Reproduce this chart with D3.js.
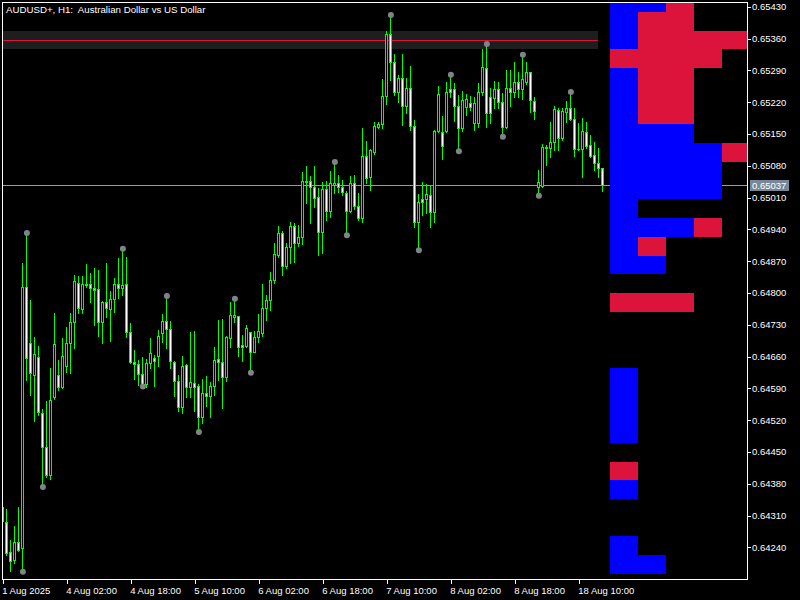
<!DOCTYPE html>
<html><head><meta charset="utf-8">
<script src="https://cdn.jsdelivr.net/npm/d3@7"></script>
<style>html,body{margin:0;padding:0;background:#000;}svg{display:block}</style>
</head><body>
<svg id="c" width="800" height="600"></svg>
<script>
const title = "AUDUSD+, H1:  Australian Dollar vs US Dollar";
const opens = [0.64329,0.64296,0.64230,0.64212,0.64252,0.64238,0.64813,0.64690,0.64619,0.64659,
0.64536,0.64461,0.64399,0.64571,0.64619,0.64593,0.64639,0.64690,0.64736,0.64822,
0.64765,0.64820,0.64820,0.64811,0.64809,0.64736,0.64780,0.64765,0.64787,0.64820,
0.64811,0.64820,0.64714,0.64648,0.64644,0.64622,0.64599,0.64646,0.64657,0.64661,
0.64712,0.64738,0.64721,0.64648,0.64606,0.64549,0.64641,0.64593,0.64602,0.64595,
0.64527,0.64580,0.64573,0.64595,0.64655,0.64648,0.64615,0.64701,0.64747,0.64749,
0.64685,0.64683,0.64714,0.64670,0.64703,0.64712,0.64767,0.64784,0.64828,0.64883,
0.64932,0.64859,0.64901,0.64947,0.64910,0.64923,0.65044,0.65046,0.65033,0.65011,
0.64934,0.65029,0.64980,0.65038,0.65042,0.65033,0.65020,0.64980,0.65042,0.64991,
0.64965,0.65101,0.65055,0.65110,0.65165,0.65172,0.65233,0.65370,0.65308,0.65242,
0.65273,0.65211,0.65251,0.65167,0.64956,0.65007,0.65007,0.65016,0.64978,0.65156,
0.65154,0.65156,0.65249,0.65249,0.65211,0.65163,0.65209,0.65218,0.65174,0.65174,
0.65242,0.65295,0.65231,0.65229,0.65249,0.65220,0.65165,0.65251,0.65242,0.65264,
0.65249,0.65264,0.65286,0.65222,0.65033,0.65035,0.65121,0.65119,0.65132,0.65203,
0.65141,0.65198,0.65207,0.65183,0.65117,0.65116,0.65154,0.65125,0.65103,0.65086,
0.65075];
const highs = [0.64331,0.64324,0.64256,0.64287,0.64329,0.64866,0.64932,0.64784,0.64703,0.64683,
0.64544,0.64562,0.64635,0.64756,0.64652,0.64701,0.64725,0.64756,0.64839,0.64837,
0.64837,0.64864,0.64844,0.64855,0.64850,0.64782,0.64866,0.64804,0.64833,0.64877,
0.64897,0.64879,0.64734,0.64674,0.64652,0.64659,0.64655,0.64701,0.64663,0.64718,
0.64754,0.64793,0.64738,0.64650,0.64619,0.64661,0.64644,0.64714,0.64716,0.64599,
0.64610,0.64617,0.64604,0.64681,0.64740,0.64743,0.64705,0.64780,0.64787,0.64750,
0.64707,0.64729,0.64715,0.64716,0.64754,0.64820,0.64795,0.64846,0.64910,0.64947,
0.64936,0.64910,0.64956,0.64954,0.64949,0.65066,0.65079,0.65057,0.65079,0.65031,
0.65044,0.65046,0.65068,0.65088,0.65060,0.65049,0.65024,0.65057,0.65060,0.65020,
0.65163,0.65134,0.65117,0.65176,0.65176,0.65271,0.65376,0.65412,0.65326,0.65280,
0.65326,0.65273,0.65299,0.65181,0.65018,0.65044,0.65040,0.65035,0.65158,0.65255,
0.65189,0.65264,0.65280,0.65262,0.65236,0.65244,0.65238,0.65233,0.65231,0.65262,
0.65337,0.65348,0.65251,0.65266,0.65264,0.65240,0.65291,0.65291,0.65308,0.65286,
0.65324,0.65308,0.65287,0.65231,0.65071,0.65128,0.65126,0.65176,0.65211,0.65207,
0.65207,0.65222,0.65242,0.65207,0.65174,0.65185,0.65176,0.65148,0.65132,0.65119,
0.65076];
const lows = [0.64296,0.64223,0.64188,0.64205,0.64232,0.64186,0.64608,0.64575,0.64518,0.64531,
0.64373,0.64395,0.64390,0.64566,0.64586,0.64591,0.64626,0.64624,0.64679,0.64756,
0.64756,0.64813,0.64780,0.64729,0.64705,0.64690,0.64747,0.64694,0.64758,0.64789,
0.64795,0.64703,0.64646,0.64610,0.64597,0.64594,0.64593,0.64635,0.64595,0.64639,
0.64692,0.64679,0.64635,0.64573,0.64540,0.64536,0.64571,0.64571,0.64540,0.64494,
0.64514,0.64551,0.64527,0.64575,0.64608,0.64547,0.64606,0.64681,0.64736,0.64661,
0.64650,0.64681,0.64624,0.64669,0.64692,0.64705,0.64740,0.64762,0.64822,0.64879,
0.64839,0.64855,0.64866,0.64868,0.64903,0.64908,0.64998,0.64954,0.64989,0.64883,
0.64888,0.64960,0.64967,0.65020,0.65022,0.65016,0.64927,0.64979,0.64985,0.64960,
0.64956,0.65042,0.65027,0.65106,0.65164,0.65163,0.65216,0.65269,0.65236,0.65220,
0.65170,0.65196,0.65159,0.64945,0.64894,0.64971,0.64976,0.64945,0.64956,0.65155,
0.65095,0.65154,0.65231,0.65178,0.65112,0.65156,0.65192,0.65203,0.65159,0.65165,
0.65236,0.65165,0.65174,0.65207,0.65207,0.65144,0.65163,0.65211,0.65231,0.65231,
0.65227,0.65260,0.65198,0.65183,0.65014,0.65034,0.65082,0.65099,0.65115,0.65115,
0.65137,0.65176,0.65181,0.65101,0.65115,0.65055,0.65119,0.65099,0.65071,0.65055,
0.65024];
const closes = [0.64298,0.64227,0.64210,0.64252,0.64234,0.64813,0.64657,0.64624,0.64666,0.64538,
0.64461,0.64399,0.64564,0.64688,0.64593,0.64661,0.64690,0.64736,0.64826,0.64767,
0.64820,0.64818,0.64811,0.64806,0.64736,0.64780,0.64767,0.64787,0.64820,0.64811,
0.64817,0.64714,0.64648,0.64644,0.64622,0.64599,0.64646,0.64668,0.64650,0.64705,
0.64738,0.64721,0.64650,0.64606,0.64549,0.64639,0.64593,0.64604,0.64593,0.64527,
0.64580,0.64573,0.64595,0.64652,0.64648,0.64615,0.64703,0.64751,0.64751,0.64681,
0.64681,0.64723,0.64670,0.64703,0.64716,0.64767,0.64784,0.64828,0.64886,0.64932,
0.64859,0.64901,0.64947,0.64910,0.64923,0.65046,0.65046,0.65033,0.65009,0.64934,
0.65029,0.64980,0.65042,0.65042,0.65033,0.65022,0.64980,0.65042,0.64991,0.64965,
0.65101,0.65053,0.65115,0.65167,0.65172,0.65233,0.65370,0.65308,0.65242,0.65273,
0.65211,0.65251,0.65167,0.64956,0.65000,0.65000,0.65018,0.64978,0.65156,0.65238,
0.65123,0.65242,0.65242,0.65211,0.65163,0.65225,0.65227,0.65209,0.65218,0.65242,
0.65297,0.65196,0.65196,0.65249,0.65220,0.65165,0.65251,0.65242,0.65264,0.65249,
0.65271,0.65286,0.65225,0.65200,0.65044,0.65121,0.65120,0.65132,0.65205,0.65141,
0.65200,0.65207,0.65183,0.65117,0.65116,0.65156,0.65123,0.65101,0.65086,0.65075,
0.65037];
const fractalUp = [6,30,41,58,83,97,112,121,130,142];
const fractalDown = [5,10,35,49,62,86,104,114,125,134];
const timeTickIdx = [0,16,32,48,64,80,96,112,128,144];
const timeLabels = ["1 Aug 2025","4 Aug 02:00","4 Aug 18:00","5 Aug 10:00","6 Aug 02:00","6 Aug 18:00","7 Aug 10:00","8 Aug 02:00","8 Aug 18:00","18 Aug 10:00"];
const priceTicks = [0.64240,0.64310,0.64380,0.64450,0.64520,0.64590,0.64660,0.64730,0.64800,0.64870,0.64940,0.65010,0.65080,0.65150,0.65220,0.65290,0.65360,0.65430];
const profileTop = 0.654595, profileBin = 0.0004123;
const profileBlue = [2,1,1,0,1,1,1,3,4,4,4,1,3,1,2,0,0,0,0,0,1,1,1,1,0,0,1,0,0,1,2];
const profileRed  = [1,2,5,4,2,2,2,0,1,0,0,0,1,1,0,0,3,0,0,0,0,0,0,0,0,1,0,0,0,0,0];

const svg = d3.select("#c");
const FONT = "'Liberation Sans', Arial, sans-serif";
svg.append("rect").attr("width",800).attr("height",600).attr("fill","#000");

const L = 2, T = 2, R = 747, B = 579;
const x = d3.scaleLinear().domain([0,150]).range([2.7,602.7]);
const y = d3.scaleLinear().domain([0.64240,0.65430]).range([547.3,6.7]);
const vx = d3.scaleLinear().domain([0,1]).range([610,638]);

svg.append("clipPath").attr("id","plot").append("rect")
  .attr("x",L+1).attr("y",T+1).attr("width",R-L-1).attr("height",B-T-1);
const g = svg.append("g").attr("clip-path","url(#plot)").attr("shape-rendering","crispEdges");

// POC band
const totals = profileBlue.map((b,i)=>b+profileRed[i]);
const poc = totals.indexOf(d3.max(totals));
const pocTop = profileTop - poc*profileBin, pocBot = pocTop - profileBin;
g.append("rect").attr("x",L+1).attr("y",Math.round(y(pocTop))).attr("width",598-L-1)
  .attr("height",Math.round(y(pocBot))-Math.round(y(pocTop))).attr("fill","#1e1e1e");
g.append("line").attr("x1",L+1).attr("x2",598).attr("y1",Math.round(y((pocTop+pocBot)/2))+0.5)
  .attr("y2",Math.round(y((pocTop+pocBot)/2))+0.5).attr("stroke","#dc143c").attr("stroke-width",1);

// current price line
const last = closes[closes.length-1];
const yl = Math.round(y(last))+0.5;
g.append("line").attr("x1",L).attr("x2",R).attr("y1",yl).attr("y2",yl).attr("stroke","#9a9a9a");

// profile
const bins = profileBlue.map((b,i)=>({i,b,r:profileRed[i],top:profileTop-i*profileBin}));
const pg = g.append("g");
bins.forEach(d=>{
  const y0 = Math.round(y(d.top)), y1 = Math.round(y(d.top-profileBin));
  if(d.b>0) pg.append("rect").attr("x",vx(0)).attr("y",y0).attr("width",vx(d.b)-vx(0)).attr("height",y1-y0).attr("fill","#0000ff");
  if(d.r>0) pg.append("rect").attr("x",vx(d.b)).attr("y",y0).attr("width",vx(d.b+d.r)-vx(d.b)).attr("height",y1-y0).attr("fill","#dc143c");
});

// candles
const GREEN = "#00ff00";
const cg = g.append("g");
opens.forEach((o,i)=>{
  const cx = Math.floor(x(i));
  const c = closes[i];
  const yh = Math.round(y(highs[i])), ylo = Math.round(y(lows[i]));
  const yo = Math.round(y(o)), yc = Math.round(y(c));
  cg.append("rect").attr("x",cx).attr("y",yh).attr("width",1).attr("height",Math.max(1,ylo-yh+1)).attr("fill",GREEN);
  const top = Math.min(yo,yc), bot = Math.max(yo,yc);
  if(bot-top < 1){
    cg.append("rect").attr("x",cx-1).attr("y",top).attr("width",3).attr("height",1).attr("fill",GREEN);
  } else {
    cg.append("rect").attr("x",cx-1).attr("y",top).attr("width",3).attr("height",bot-top+1).attr("fill",GREEN);
    if(bot-top>=2) cg.append("rect").attr("x",cx).attr("y",top+1).attr("width",1).attr("height",bot-top-1)
      .attr("fill", c>o ? "#000000" : "#ffffff");
  }
});

// fractal dots
const dg = svg.append("g").attr("clip-path","url(#plot)");
fractalUp.forEach(i=>dg.append("circle").attr("cx",x(i)+0.2).attr("cy",y(highs[i])).attr("r",3).attr("fill","#808488"));
fractalDown.forEach(i=>dg.append("circle").attr("cx",x(i)+0.2).attr("cy",y(lows[i])).attr("r",3).attr("fill","#808488"));

// frame
svg.append("rect").attr("x",L+0.5).attr("y",T+0.5).attr("width",R-L).attr("height",B-T)
  .attr("fill","none").attr("stroke","#fff").attr("shape-rendering","crispEdges");

// y axis
const ya = svg.append("g").attr("transform",`translate(${R},0)`)
  .call(d3.axisRight(y).tickValues(priceTicks).tickSize(4).tickPadding(1).tickFormat(d3.format(".5f")));
ya.select(".domain").remove();
ya.selectAll("line").attr("stroke","#fff").attr("shape-rendering","crispEdges");
ya.selectAll("text").attr("fill","#fff").style("font-family",FONT).style("font-size","9.5px");

// current price label
const by = Math.round(y(last));
svg.append("rect").attr("x",750).attr("y",by-5).attr("width",39).attr("height",11).attr("fill","#778899");
svg.append("text").attr("x",752).attr("y",by+4).attr("fill","#fff").style("font-family",FONT).style("font-size","9.5px")
  .text(d3.format(".5f")(last));

// x axis
const xa = svg.append("g").attr("transform",`translate(0,${B})`)
  .call(d3.axisBottom(x).tickValues(timeTickIdx).tickSize(5).tickPadding(3).tickFormat((d,i)=>timeLabels[i]));
xa.select(".domain").remove();
xa.selectAll("line").attr("stroke","#fff").attr("shape-rendering","crispEdges");
xa.selectAll("text").attr("fill","#fff").attr("text-anchor","start").attr("dx","-1")
  .style("font-family",FONT).style("font-size","9.5px");

// title
svg.append("text").attr("x",6).attr("y",13).attr("fill","#fff").style("white-space","pre")
  .style("font-family",FONT).style("font-size","9.7px").text(title);
</script>
</body></html>
